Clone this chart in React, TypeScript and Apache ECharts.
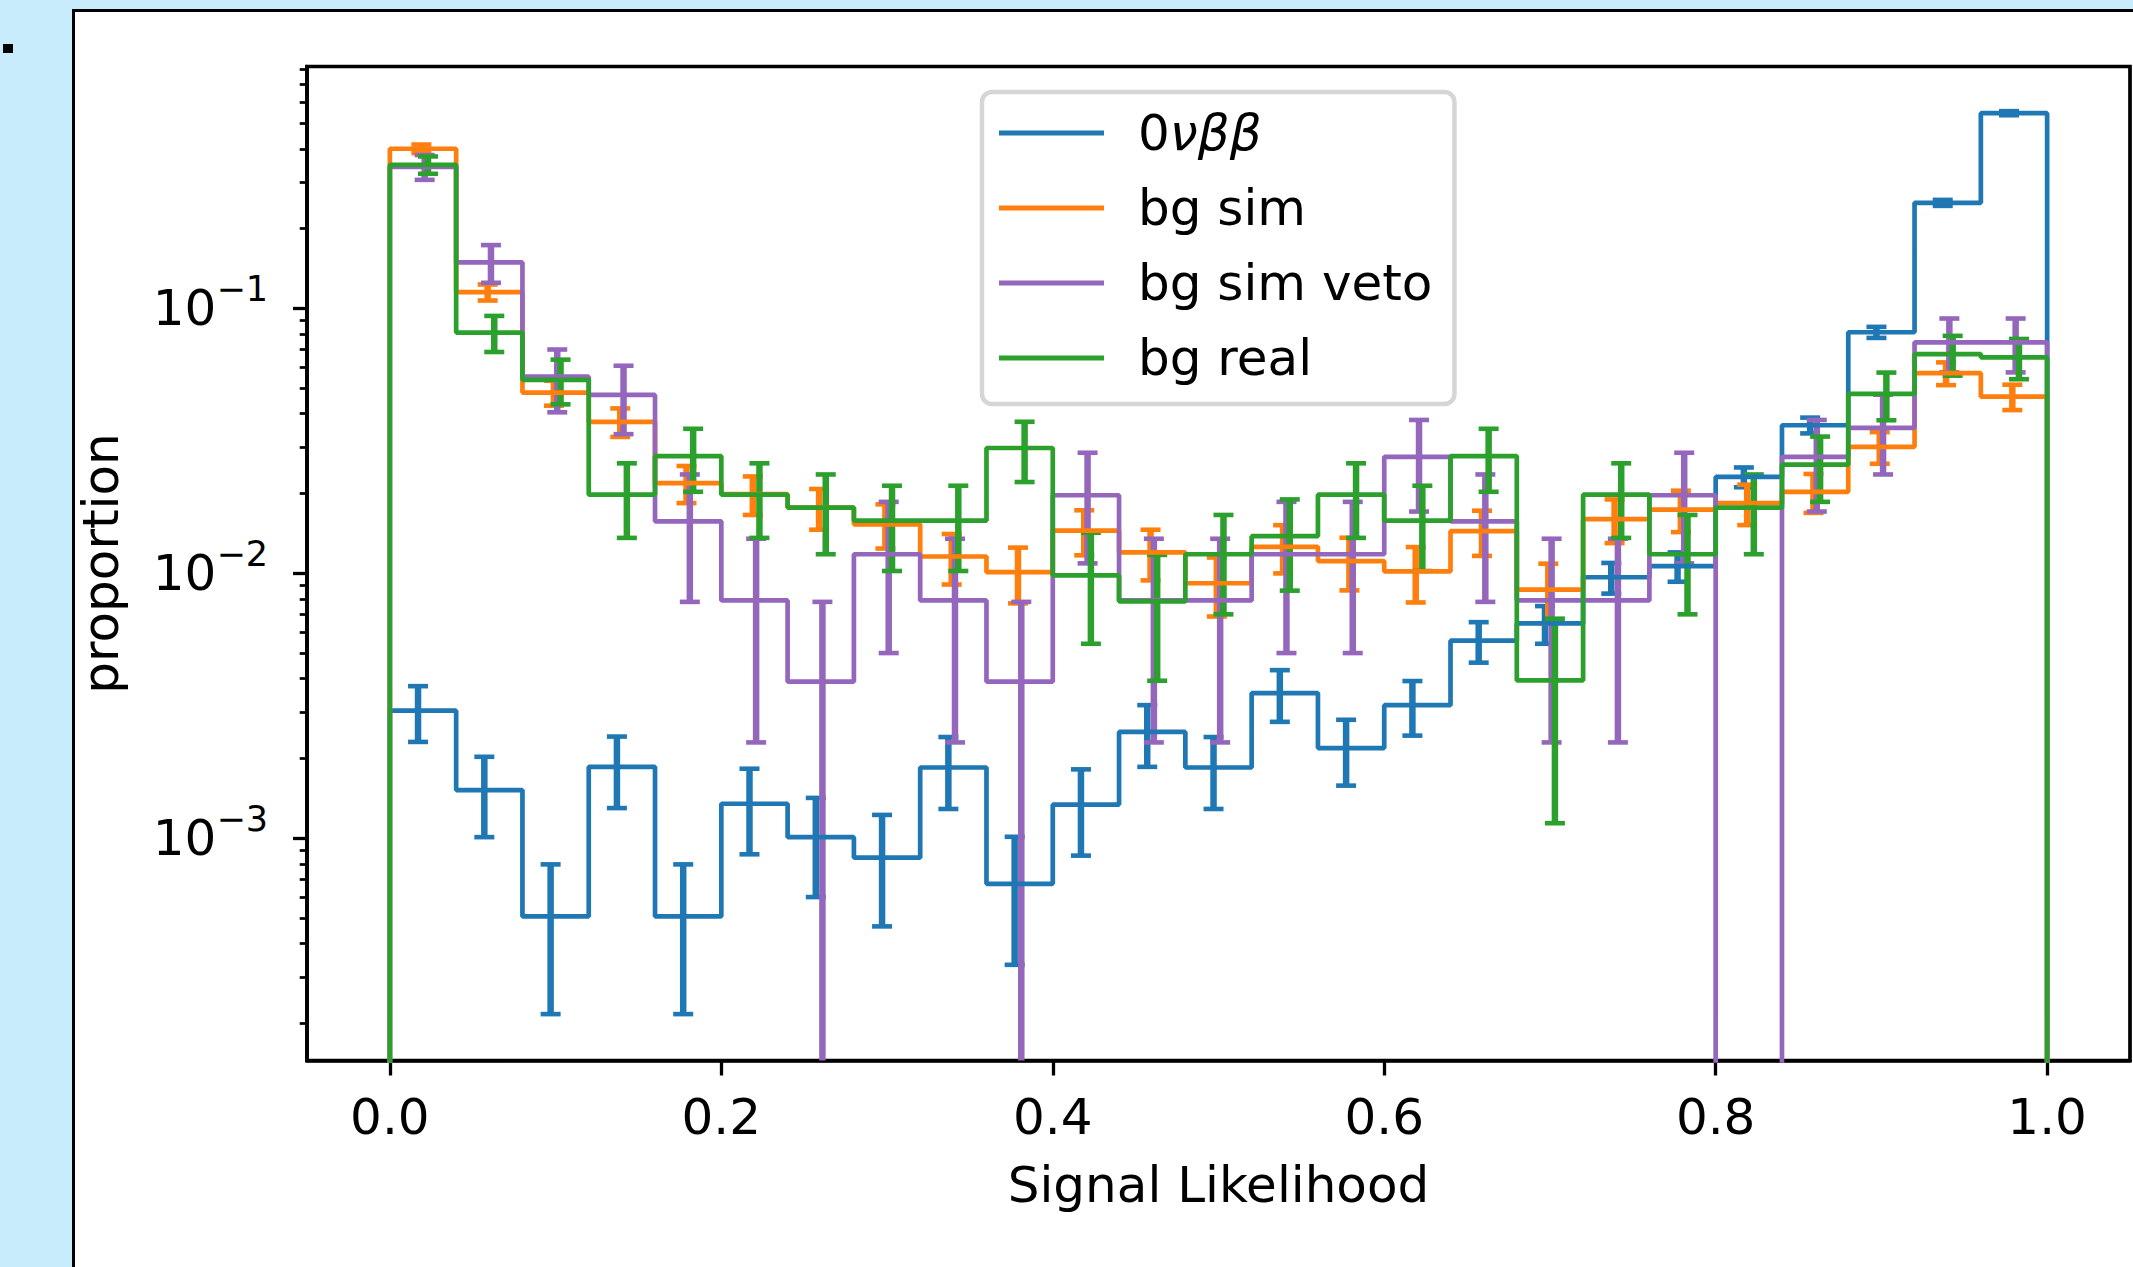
import React, { useEffect, useRef } from 'react';
import * as echarts from 'echarts';

// ---------- data ----------
const BIN_EDGES = [0, 0.04, 0.08, 0.12, 0.16, 0.2, 0.24, 0.28, 0.32, 0.36, 0.4, 0.44, 0.48, 0.52, 0.56, 0.6, 0.64, 0.68, 0.72, 0.76, 0.8, 0.84, 0.88, 0.92, 0.96, 1.0];

const SIGNAL = [3.03e-3, 1.52e-3, 5.07e-4, 1.86e-3, 5.07e-4, 1.35e-3, 1.01e-3, 8.45e-4, 1.85e-3, 6.73e-4, 1.34e-3, 2.52e-3, 1.85e-3, 3.53e-3, 2.19e-3, 3.18e-3, 5.57e-3, 6.47e-3, 9.66e-3, 1.064e-2, 2.31e-2, 3.62e-2, 8.12e-2, 0.25, 0.545];
const SIGNAL_ERR = [7.2e-4, 5.1e-4, 2.9e-4, 5.6e-4, 2.9e-4, 4.8e-4, 4.1e-4, 3.8e-4, 5.6e-4, 3.4e-4, 4.8e-4, 6.6e-4, 5.6e-4, 7.8e-4, 6.1e-4, 7.4e-4, 9.7e-4, 1.05e-3, 1.28e-3, 1.35e-3, 1.98e-3, 2.48e-3, 3.9e-3, 6.5e-3, 9.6e-3];

const BG_SIM = [0.4, 0.115, 0.0481, 0.0373, 0.0219, 0.0199, 0.0177, 0.0153, 0.01157, 0.0101, 0.01449, 0.012, 0.00917, 0.01259, 0.01112, 0.01016, 0.01443, 0.00867, 0.016, 0.0174, 0.0184, 0.0203, 0.03, 0.0569, 0.0464];
const BG_SIM_ERR = [0.0149, 0.008, 0.0052, 0.0046, 0.0035, 0.0033, 0.0031, 0.0029, 0.0025, 0.0024, 0.0028, 0.0026, 0.0023, 0.0026, 0.0025, 0.0024, 0.0028, 0.0022, 0.003, 0.0031, 0.0032, 0.0034, 0.0041, 0.0056, 0.0051];

const BG_VETO = [0.342, 0.149, 0.0552, 0.0471, 0.0157, 0.0079, 0.0039, 0.0118, 0.0079, 0.0039, 0.0197, 0.0079, 0.0079, 0.0118, 0.0118, 0.0275, 0.0157, 0.0079, 0.0079, 0.0197, 0, 0.0275, 0.0354, 0.0744, 0.0744];
const BG_VETO_ERR = [0.0367, 0.0242, 0.0147, 0.0136, 0.0079, 0.0056, 0.0039, 0.0068, 0.0056, 0.0039, 0.0088, 0.0056, 0.0056, 0.0068, 0.0068, 0.0104, 0.0079, 0.0056, 0.0056, 0.0088, 0, 0.0104, 0.0118, 0.0171, 0.0171];

const BG_REAL = [0.348, 0.081, 0.0537, 0.0198, 0.0277, 0.0198, 0.0177, 0.0158, 0.0158, 0.0297, 0.00982, 0.00783, 0.0118, 0.0138, 0.0198, 0.0158, 0.0277, 0.00394, 0.0198, 0.0118, 0.0177, 0.0257, 0.0475, 0.0672, 0.0653];
const BG_REAL_ERR = [0.0262, 0.0126, 0.0103, 0.0062, 0.0074, 0.0062, 0.0059, 0.0056, 0.0056, 0.0076, 0.0044, 0.0039, 0.0048, 0.0052, 0.0062, 0.0056, 0.0074, 0.0028, 0.0062, 0.0048, 0.0059, 0.0071, 0.0097, 0.0115, 0.0113];

const SERIES_NAMES = ['0νββ', 'bg sim', 'bg sim veto', 'bg real'];
const ERR_X_OFFSET = [-0.003, -0.001, 0.001, 0.003];

const X_TICKS = [0, 0.2, 0.4, 0.6, 0.8, 1.0];
const Y_MAJOR = [1e-3, 1e-2, 1e-1];
const Y_MINOR = [
  2e-4, 3e-4, 4e-4, 5e-4, 6e-4, 7e-4, 8e-4, 9e-4,
  2e-3, 3e-3, 4e-3, 5e-3, 6e-3, 7e-3, 8e-3, 9e-3,
  2e-2, 3e-2, 4e-2, 5e-2, 6e-2, 7e-2, 8e-2, 9e-2,
  0.2, 0.3, 0.4, 0.5, 0.6, 0.7, 0.8,
];
const X_MIN = -0.05;
const X_MAX = 1.05;
const Y_MIN = 1.45e-4;
const Y_MAX = 0.8175;
const OFF_AXIS = 1e-9;

// ---------- styling ----------
const COLORS = ['#1f77b4', '#ff7f0e', '#9467bd', '#2ca02c'];
const FONT = 'DejaVu Sans';

function stepData(values: number[]) {
  const pts: number[][] = [[BIN_EDGES[0], OFF_AXIS]];
  values.forEach((v, i) => {
    const y = v > 0 ? v : OFF_AXIS;
    pts.push([BIN_EDGES[i], y], [BIN_EDGES[i + 1], y]);
  });
  pts.push([BIN_EDGES[BIN_EDGES.length - 1], OFF_AXIS]);
  return pts;
}

function errData(values: number[], errs: number[], dx: number) {
  const out: number[][] = [];
  values.forEach((v, i) => {
    if (v > 0) out.push([(BIN_EDGES[i] + BIN_EDGES[i + 1]) / 2 + dx, v, errs[i]]);
  });
  return out;
}

function errRender(color: string) {
  return (params: any, api: any) => {
    const x = api.value(0);
    const v = api.value(1);
    const e = api.value(2);
    const cs = params.coordSys;
    const bottom = cs.y + cs.height;
    const top = api.coord([x, v + e]);
    const lowV = v - e;
    const low = lowV > 0 ? api.coord([x, lowV]) : [top[0], bottom];
    const half = 10;
    const children: any[] = [
      {
        type: 'line',
        shape: { x1: top[0], y1: top[1], x2: low[0], y2: Math.min(low[1], bottom) },
        style: { stroke: color, lineWidth: 6.5 },
      },
      {
        type: 'line',
        shape: { x1: top[0] - half, y1: top[1], x2: top[0] + half, y2: top[1] },
        style: { stroke: color, lineWidth: 4.6 },
      },
    ];
    if (lowV > 0) {
      children.push({
        type: 'line',
        shape: { x1: low[0] - half, y1: low[1], x2: low[0] + half, y2: low[1] },
        style: { stroke: color, lineWidth: 4.6 },
      });
    }
    return { type: 'group', children };
  };
}

function buildOption() {
  const valueSets = [SIGNAL, BG_SIM, BG_VETO, BG_REAL];
  const errSets = [SIGNAL_ERR, BG_SIM_ERR, BG_VETO_ERR, BG_REAL_ERR];
  const series: any[] = [];
  valueSets.forEach((vals, k) => {
    series.push({
      name: SERIES_NAMES[k],
      type: 'line',
      data: stepData(vals),
      symbol: 'none',
      showSymbol: false,
      clip: true,
      z: 2,
      lineStyle: { color: COLORS[k], width: 4.7 },
      itemStyle: { color: COLORS[k] },
      emphasis: { disabled: true },
    });
    series.push({
      name: SERIES_NAMES[k] + ' error',
      type: 'custom',
      data: errData(vals, errSets[k], ERR_X_OFFSET[k]),
      encode: { x: 0, y: 1 },
      renderItem: errRender(COLORS[k]),
      z: 2,
      silent: true,
    });
  });

  return {
    animation: false,
    backgroundColor: '#c8ecfc',
    graphic: {
      elements: [
        {
          type: 'rect',
          z: -10,
          silent: true,
          shape: { x: 73.5, y: 10.5, width: 2200, height: 1400 },
          style: { fill: '#ffffff', stroke: '#000000', lineWidth: 3 },
        },
        {
          type: 'rect',
          z: -10,
          silent: true,
          shape: { x: 3, y: 44, width: 10, height: 9 },
          style: { fill: '#000000' },
        },
      ],
    },
    grid: {
      left: 307,
      top: 66.5,
      width: 1823,
      height: 994,
      show: true,
      borderColor: '#000',
      borderWidth: 3.7,
      backgroundColor: 'transparent',
      containLabel: false,
      outerBoundsMode: 'none',
    },
    legend: {
      data: SERIES_NAMES,
      orient: 'vertical',
      left: 982,
      top: 92,
      padding: [11, 22, 16, 17],
      itemWidth: 105,
      itemHeight: 5,
      itemGap: 15,
      icon: 'rect',
      selectedMode: false,
      backgroundColor: '#ffffff',
      borderColor: '#d6d6d6',
      borderWidth: 4.5,
      borderRadius: 10,
      itemStyle: { borderWidth: 0 },
      formatter: (name: string) => (name === SERIES_NAMES[0] ? '{t|0}{g|νββ}' : `{t|${name}}`),
      textStyle: {
        fontFamily: FONT,
        fontSize: 50,
        color: '#000',
        lineHeight: 60,
        rich: {
          t: { fontFamily: FONT, fontSize: 50, color: '#000', lineHeight: 60, padding: [0, 0, 0, 29] },
          g: { fontFamily: FONT, fontSize: 50, color: '#000', lineHeight: 60, fontStyle: 'italic' },
        },
      },
    },
    xAxis: {
      type: 'value',
      min: X_MIN,
      max: X_MAX,
      name: 'Signal Likelihood',
      nameLocation: 'middle',
      nameGap: 99,
      nameMoveOverlap: false,
      nameTextStyle: { fontFamily: FONT, fontSize: 50, color: '#000' },
      axisLine: { show: true, onZero: false, lineStyle: { color: '#000', width: 3.7 } },
      axisTick: { show: true, inside: false, customValues: X_TICKS, length: 15, lineStyle: { color: '#000', width: 3.3 } },
      axisLabel: {
        show: true,
        customValues: X_TICKS,
        margin: 31,
        fontFamily: FONT,
        fontSize: 50,
        color: '#000',
        formatter: (v: number) => Number(v).toFixed(1),
      },
      splitLine: { show: false },
      minorTick: { show: false },
    },
    yAxis: [
      {
        type: 'log',
        logBase: 10,
        min: Y_MIN,
        max: Y_MAX,
        name: 'proportion',
        nameLocation: 'middle',
        nameGap: 181,
        nameMoveOverlap: false,
        nameTextStyle: { fontFamily: FONT, fontSize: 50, color: '#000' },
        axisLine: { show: true, onZero: false, lineStyle: { color: '#000', width: 3.7 } },
        axisTick: { show: true, inside: false, customValues: Y_MAJOR, length: 14, lineStyle: { color: '#000', width: 3.3 } },
        axisLabel: {
          show: true,
          customValues: Y_MAJOR,
          margin: 39,
          fontFamily: FONT,
          fontSize: 50,
          color: '#000',
          formatter: (v: number) => `{b|10}{s|\u2212${-Math.round(Math.log10(v))}}`,
          rich: {
            b: { fontFamily: FONT, fontSize: 50, color: '#000' },
            s: { fontFamily: FONT, fontSize: 35, color: '#000', padding: [0, 0, 38, 0] },
          },
        },
        splitLine: { show: false },
        minorTick: { show: false },
      },
      {
        type: 'log',
        logBase: 10,
        min: Y_MIN,
        max: Y_MAX,
        position: 'left',
        axisLine: { show: false, onZero: false },
        axisLabel: { show: false },
        axisTick: { show: true, inside: false, customValues: Y_MINOR, length: 7.3, lineStyle: { color: '#000', width: 2.7 } },
        splitLine: { show: false },
        minorTick: { show: false },
      },
    ],
    series,
  };
}

export default function App() {
  const ref = useRef<HTMLDivElement>(null);
  useEffect(() => {
    if (!ref.current) return;
    const chart = echarts.init(ref.current, null, { renderer: 'svg' });
    chart.setOption(buildOption() as any);
    return () => {
      chart.dispose();
    };
  }, []);
  return (
    <div
      ref={ref}
      style={{ position: 'fixed', left: 0, top: 0, width: 2133, height: 1267 }}
    />
  );
}
